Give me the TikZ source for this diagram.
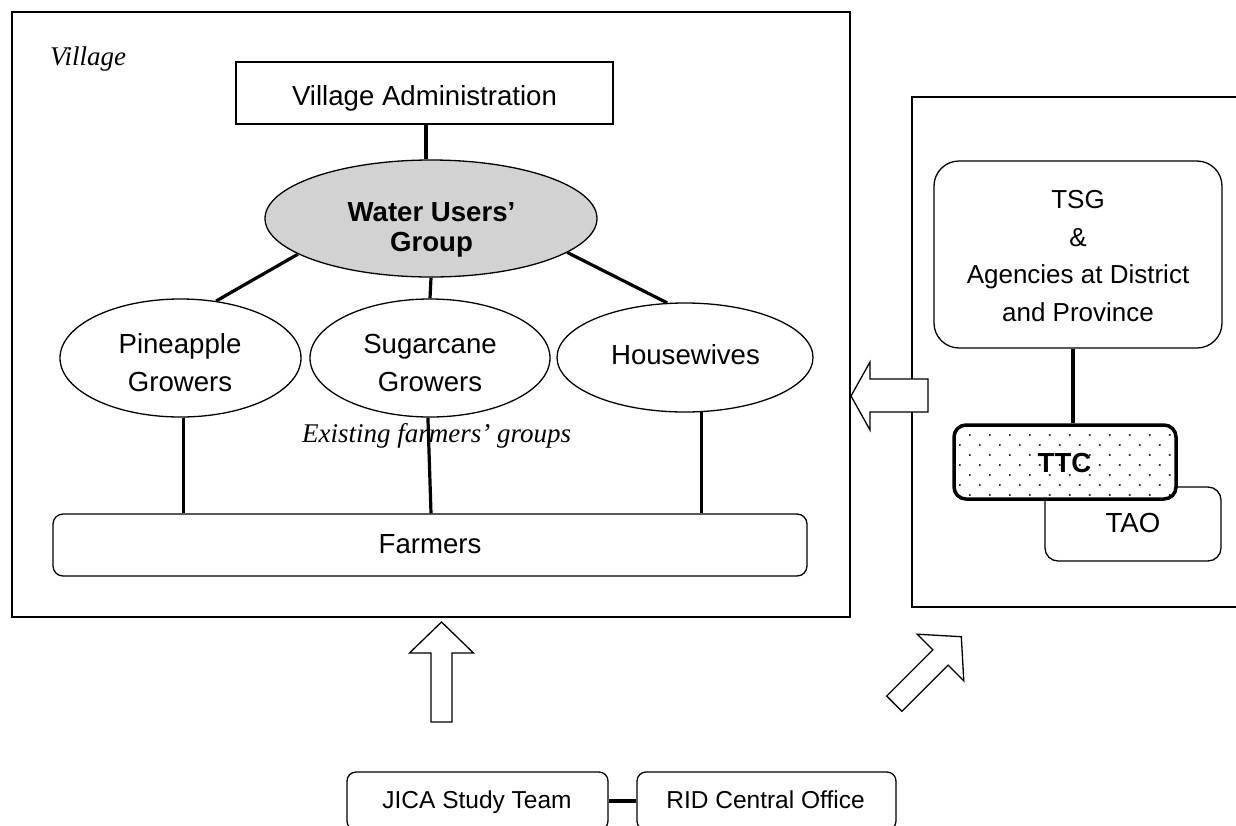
\documentclass[tikz,border=0pt]{standalone}
\usepackage{fontspec}
\setmainfont{Liberation Sans}
\newfontfamily\notefont{Liberation Serif}
\usetikzlibrary{shapes.geometric,patterns.meta}

\tikzset{
  box/.style={draw, line width=1.3pt, inner sep=0pt},
  rbox/.style={box, rounded corners=#1},
  frame/.style={draw, line width=1.5pt, inner sep=0pt},
  grp/.style={draw, ellipse, line width=1.3pt, inner sep=0pt},
  link/.style={line width=3.2pt},
  blockarrow/.style={draw, line width=1.3pt, fill=white, line join=miter},
  txt/.style={inner sep=0pt, align=center, font=\fontsize{27.6}{38}\selectfont},
  boldtxt/.style={txt, font=\bfseries\fontsize{27.6}{30}\selectfont},
  smalltxt/.style={txt, font=\fontsize{24.5}{30}\selectfont},
  note/.style={inner sep=0pt, font=\notefont\itshape\fontsize{27}{32}\selectfont},
}

\begin{document}
\begin{tikzpicture}[x=1pt, y=-1pt]
\useasboundingbox (0,0) rectangle (1236,825);
\clip (0,0) rectangle (1236,825);

% village frame and the district/province frame (runs off the right edge)
\node[frame, minimum width=838pt, minimum height=605pt] (village) at (431,314.5) {};
\node[box, minimum width=348pt, minimum height=510pt] (district) at (1086,352) {};

% village organisation
\node[box, minimum width=377pt, minimum height=62pt] (va) at (424.5,93) {};
\node[grp, fill=gray!35, minimum width=332pt, minimum height=117pt] (wug) at (431,218.5) {};
\node[grp, minimum width=241pt, minimum height=118pt] (pine) at (180.5,358) {};
\node[grp, minimum width=240pt, minimum height=118pt] (sugar) at (430,358) {};
\node[grp, minimum width=256pt, minimum height=109pt] (house) at (685,357.5) {};
\node[rbox=10pt, minimum width=754pt, minimum height=62pt] (farm) at (430,545) {};

% support agencies
\node[rbox=25pt, minimum width=288pt, minimum height=187pt] (tsg) at (1078,254.5) {};
\node[rbox=13pt, minimum width=176pt, minimum height=74pt] (tao) at (1133,524) {};
\node[rbox=12pt, line width=3.5pt, preaction={fill=white},
      pattern={Dots[radius=1.2pt,distance=14.14pt,angle=45]}, pattern color=black!80,
      minimum width=222pt, minimum height=74pt] (ttc) at (1065,462) {};

% central level (boxes continue below the page)
\node[rbox=9pt, minimum width=261pt, minimum height=58pt] (jica) at (477.5,801) {};
\node[rbox=9pt, minimum width=259pt, minimum height=58pt] (rid) at (766.5,801) {};

% labels
\node[note, anchor=base west] (village-t) at (50,65) {Village};
\node[txt, anchor=base] (va-t) at (424.5,105) {Village Administration};
\node[boldtxt] (wug-t) at (431.5,230) {Water Users’\\Group};
\node[txt] (pine-t) at (180,363) {Pineapple\\Growers};
\node[txt] (sugar-t) at (430,363) {Sugarcane\\Growers};
\node[txt, anchor=base] (house-t) at (685.5,364) {Housewives};
\node[note, anchor=base west] (groups-t) at (302,442) {Existing farmers’ groups};
\node[txt, anchor=base] (farm-t) at (430,553) {Farmers};
\node[txt, font=\fontsize{26}{37.5}\selectfont] (tsg-t) at (1078,256) {TSG\\\&\\Agencies at District\\and Province};
\node[boldtxt, anchor=base] (ttc-t) at (1064.5,472.7) {TTC};
\node[txt, anchor=base] (tao-t) at (1133,532.7) {TAO};
\node[smalltxt, anchor=base] (jica-t) at (477,808.3) {JICA Study Team};
\node[smalltxt, anchor=base] (rid-t) at (765.5,808.3) {RID Central Office};

% connectors
\draw[link] ([xshift=1.5pt]va.south) -- ([xshift=-5pt]wug.north);
\draw[link] (wug.195) -- (pine.58);
\draw[link] (wug.south) -- (sugar.north);
\draw[link] (wug.346) -- (house.108);
\draw[link] (pine.273) -- (pine.273 |- farm.north);
\draw[link] (sugar.268) -- ([xshift=1pt]farm.north);
\draw[link] (house.287) -- (house.287 |- farm.north);
\draw[link] ([xshift=-5pt]tsg.south) -- ([xshift=-5pt]tsg.south |- ttc.north);
\draw[link] (jica.east) -- (rid.west);

% block arrows
\draw[blockarrow] (851,396) -- (870,362) -- (870,379) -- (928,379) -- (928,412)
  -- (870,412) -- (870,430) -- cycle;
\draw[blockarrow] (441.5,622) -- (473.5,653) -- (452,653) -- (452,722) -- (431,722)
  -- (431,653) -- (409.5,653) -- cycle;
\draw[blockarrow] (961.3,636.7) -- (963.8,680.8) -- (948.1,665.1) -- (901.9,711.3)
  -- (886.7,696.1) -- (932.9,649.9) -- (917.2,634.2) -- cycle;
\end{tikzpicture}
\end{document}
